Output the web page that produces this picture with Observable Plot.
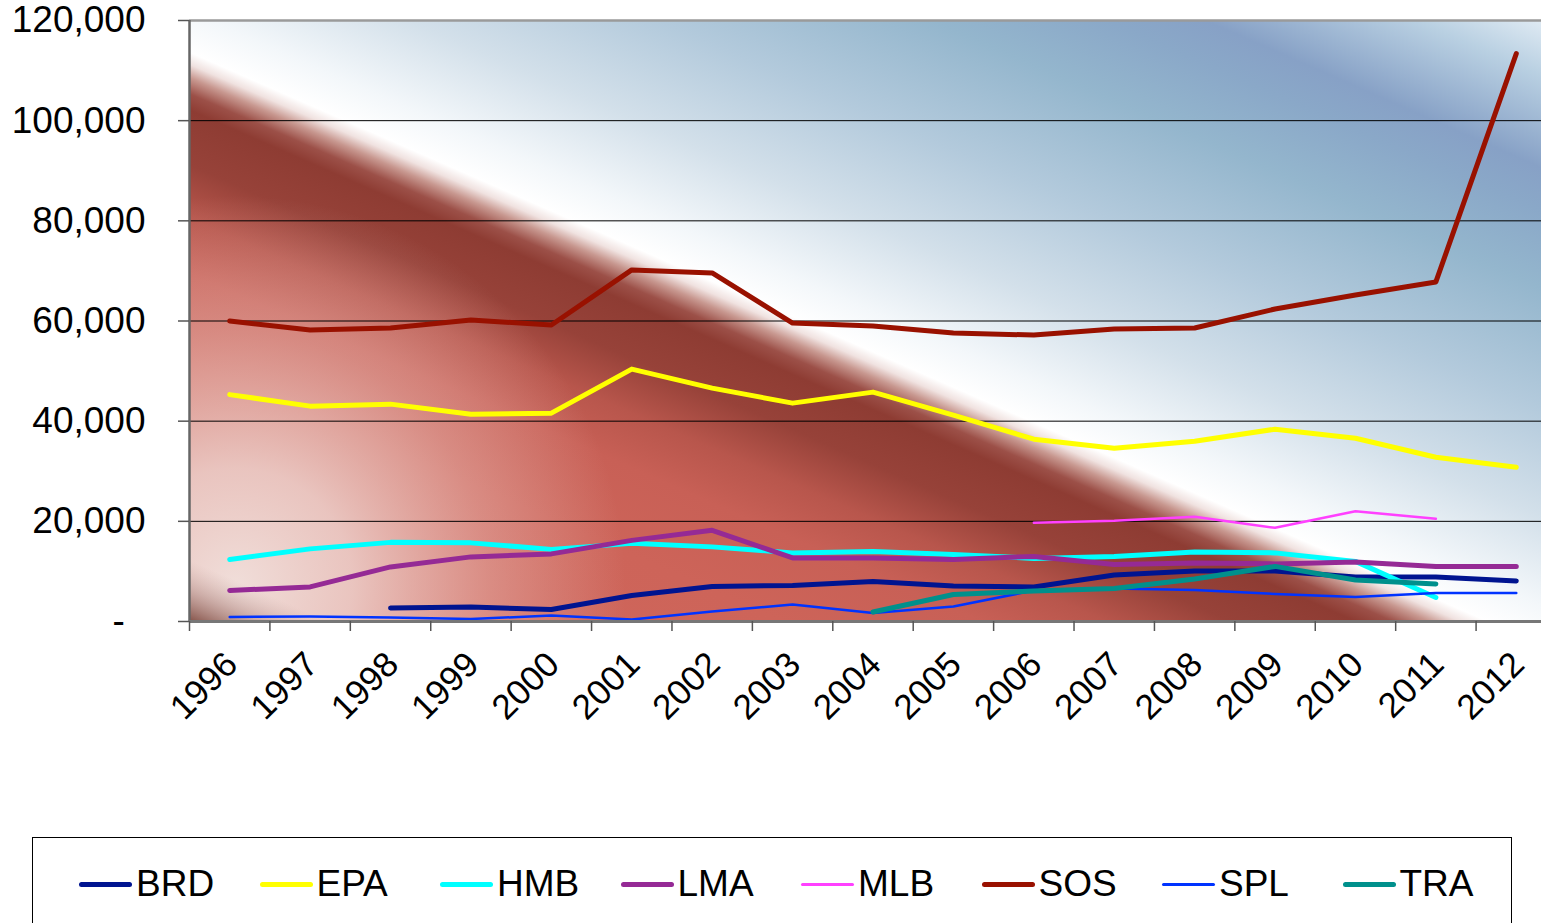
<!DOCTYPE html>
<html>
<head>
<meta charset="utf-8">
<script src="https://cdn.jsdelivr.net/npm/d3@7"></script>
<script src="https://cdn.jsdelivr.net/npm/@observablehq/plot@0.6"></script>
<style>
  html, body { margin: 0; padding: 0; background: #fff; overflow: hidden; width: 1541px; height: 923px; }
  #chart svg { display: block; }
  #legend {
    position: absolute; left: 32px; top: 837px; width: 1480px; height: 130px;
    border: 1.5px solid #000; box-sizing: border-box; background: #fff;
    font-family: "Liberation Sans", Arial, sans-serif; font-size: 37px; color: #000;
    display: flex; align-items: flex-start; padding-left: 46px;
  }
  .item { width: 180.5px; height: 92px; display: flex; align-items: center; flex: none; }
  .swatch { width: 53px; border-radius: 3px; margin-right: 4px; flex: none; }
</style>
</head>
<body>
<div id="chart"></div>
<div id="legend"></div>
<script>
// ---- data ----
const years = [1996, 1997, 1998, 1999, 2000, 2001, 2002, 2003, 2004, 2005, 2006, 2007, 2008, 2009, 2010, 2011, 2012];
const BRD = [null, null, 2700, 2900, 2400, 5200, 7000, 7200, 8000, 7100, 6900, 9300, 10100, 10100, 8900, 8900, 8100];
const EPA = [45300, 43000, 43400, 41400, 41600, 50400, 46600, 43600, 45800, 41200, 36400, 34600, 36000, 38400, 36600, 32800, 30800];
const HMB = [12400, 14500, 15800, 15700, 14400, 15600, 14900, 13700, 14000, 13400, 12600, 13000, 13900, 13700, 12000, 4800, null];
const LMA = [6200, 6900, 10900, 12900, 13500, 16200, 18200, 12700, 12700, 12400, 13000, 11400, 11700, 11500, 11900, 11000, 11000];
const MLB = [null, null, null, null, null, null, null, null, null, null, 19700, 20100, 20900, 18700, 22000, 20500, null];
const SOS = [60000, 58200, 58600, 60200, 59200, 70200, 69600, 59600, 59000, 57600, 57200, 58400, 58600, 62400, 65200, 67800, 113400];
const SPL = [900, 1000, 800, 500, 1200, 400, 2000, 3400, 1700, 3000, 6200, 6600, 6300, 5500, 4900, 5700, 5700];
const TRA = [null, null, null, null, null, null, null, null, 1900, 5400, 6100, 6600, 8500, 11000, 8300, 7500, null];
const seriesNames = ["BRD", "EPA", "HMB", "LMA", "MLB", "SOS", "SPL", "TRA"];
const yTicks = [0, 20000, 40000, 60000, 80000, 100000, 120000];

// ---- styles ----
const seriesValues = {BRD, EPA, HMB, LMA, MLB, SOS, SPL, TRA};
const seriesColors = {BRD: "#001490", EPA: "#ffff00", HMB: "#00ffff", LMA: "#952a95", MLB: "#ff40ff", SOS: "#991100", SPL: "#0033ff", TRA: "#00908c"};
const seriesWidths = {BRD: 5, EPA: 5, HMB: 5, LMA: 5, MLB: 2.5, SOS: 5, SPL: 2.5, TRA: 5};

const rows = seriesNames.flatMap(name => years.map((year, i) => ({name, year, value: seriesValues[name][i]})));
const edges = [years[0] - 0.5, ...years.map(y => y + 0.5)];

// background gradients (plot-area decoration)
function o(d) { return ((d + 575) / 1093).toFixed(4); }
const mainStops = [
  [-575, "#dfeaf3"], [-525, "#b9d0e2"], [-440, "#87a1c6"], [-400, "#8aa8c8"], [-330, "#94b6cd"],
  [-220, "#b3cadc"], [-120, "#d3e0ea"], [-40, "#f3f7fa"], [-3, "#ffffff"], [8, "#f0e2e0"],
  [20, "#c89890"], [35, "#9c5048"], [50, "#8e3c33"], [100, "#974239"], [150, "#b8564c"],
  [200, "#c86056"], [280, "#cd6459"], [518, "#d2675c"]
];
function defsMark() {
  const ns = "http://www.w3.org/2000/svg";
  const g = document.createElementNS(ns, "defs");
  g.innerHTML = `
    <linearGradient id="bgMain" gradientUnits="userSpaceOnUse" x1="419.9" y1="-471.6" x2="-19" y2="529.4">
      ${mainStops.map(([d, c]) => `<stop offset="${o(d)}" stop-color="${c}"/>`).join("")}
    </linearGradient>
    <radialGradient id="bgPink" gradientUnits="userSpaceOnUse" cx="235" cy="585" r="390">
      <stop offset="0" stop-color="#f2e4e0" stop-opacity="0.95"/>
      <stop offset="0.3" stop-color="#f0dcd8" stop-opacity="0.8"/>
      <stop offset="0.65" stop-color="#eccdc8" stop-opacity="0.38"/>
      <stop offset="1" stop-color="#eccdc8" stop-opacity="0"/>
    </radialGradient>
    <linearGradient id="bgCorner" gradientUnits="userSpaceOnUse" x1="419.9" y1="-471.6" x2="-19" y2="529.4">
      <stop offset="${o(462)}" stop-color="#c8a8a2" stop-opacity="0"/>
      <stop offset="${o(488)}" stop-color="#b08a84" stop-opacity="0.5"/>
      <stop offset="1" stop-color="#7a463c" stop-opacity="0.9"/>
    </linearGradient>`;
  return g;
}

const lineMarks = seriesNames.map(name =>
  Plot.line(rows.filter(d => d.name === name), {
    x: "year", y: "value", stroke: seriesColors[name], strokeWidth: seriesWidths[name],
    strokeLinejoin: "round", strokeLinecap: "round"
  })
);

const yFormat = d => d === 0 ? "-  " : d3.format(",")(d);

const plot = Plot.plot({
  width: 1541,
  height: 760,
  marginLeft: 189,
  marginRight: -15,
  marginTop: 20,
  marginBottom: 139,
  style: {fontFamily: "'Liberation Sans', Arial, sans-serif", background: "transparent", color: "#000"},
  x: {domain: [edges[0], edges[edges.length - 1]], label: null},
  y: {domain: [0, 120000], label: null},
  marks: [
    defsMark,
    Plot.frame({fill: "url(#bgMain)", stroke: null}),
    Plot.frame({fill: "url(#bgPink)", stroke: null}),
    Plot.frame({fill: "url(#bgCorner)", stroke: null}),
    Plot.ruleY(yTicks.slice(1, -1), {stroke: "#000", strokeWidth: 1}),
    Plot.ruleY([yTicks[yTicks.length - 1]], {stroke: "#9a9a9a", strokeWidth: 2.5}),
    ...lineMarks,
    Plot.ruleX([edges[0]], {stroke: "#666", strokeWidth: 2.5}),
    Plot.ruleY([0], {stroke: "#777", strokeWidth: 3}),
    Plot.axisY({ticks: yTicks, tickFormat: yFormat, tickSize: 11, tickPadding: 33, fontSize: 37, stroke: "#555", strokeWidth: 1.5, label: null}),
    Plot.axisX({ticks: edges, tickFormat: () => "", tickSize: 10, stroke: "#555", strokeWidth: 1.5, label: null}),
    Plot.axisX({ticks: years, tickFormat: d => String(d), tickSize: 0, tickPadding: 37, tickRotate: -45, fontSize: 35, dx: 2, label: null})
  ]
});
document.getElementById("chart").appendChild(plot);

// legend
const legend = document.getElementById("legend");
for (const name of seriesNames) {
  const item = document.createElement("div");
  item.className = "item";
  const sw = document.createElement("span");
  sw.className = "swatch";
  sw.style.background = seriesColors[name];
  sw.style.height = (seriesWidths[name] > 3 ? 5 : 3) + "px";
  const label = document.createElement("span");
  label.textContent = name;
  item.appendChild(sw);
  item.appendChild(label);
  legend.appendChild(item);
}
</script>
</body>
</html>
